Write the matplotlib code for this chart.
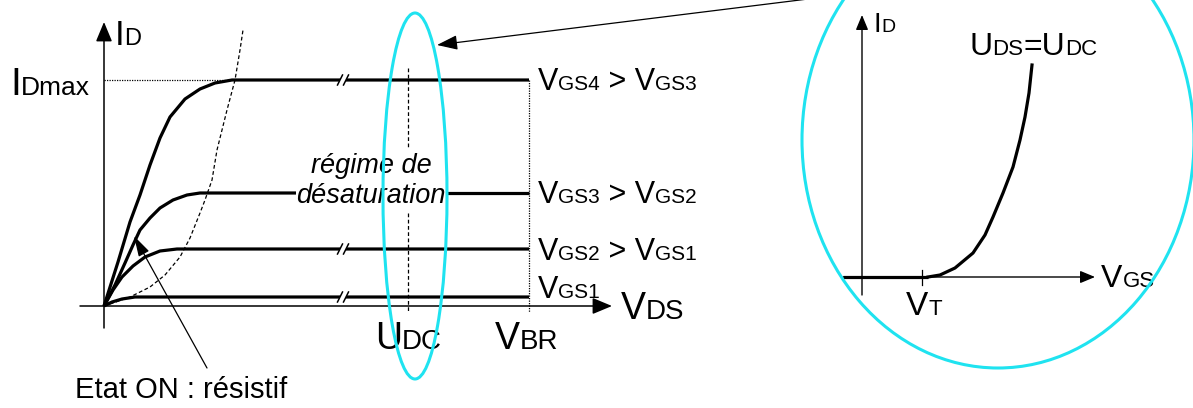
import matplotlib
matplotlib.use("Agg")
import matplotlib.pyplot as plt
from matplotlib.patches import Ellipse, Polygon

plt.rcParams['font.family'] = ['Liberation Sans', 'DejaVu Sans']

# --- data (pixel units, y downwards) ---
# output characteristics I_D(V_DS), one per V_GS
vgs4_x = [104, 118, 130, 140, 150, 160, 170, 185, 200, 215, 232, 529]
vgs4_y = [306, 262, 222, 195, 165, 138, 117, 99, 89, 83, 80, 80]
vgs3_x = [104, 115, 125, 133, 140, 150, 160, 173, 187, 200, 296]
vgs3_y = [306, 285, 263, 245, 230, 218, 208, 200, 195, 193, 193]
vgs3_x2 = [447, 529]
vgs2_x = [104, 113, 122, 133, 145, 160, 177, 529]
vgs2_y = [306, 290, 277, 266, 257, 251, 249, 249]
vgs1_x = [104, 112, 122, 135, 529]
vgs1_y = [306, 302, 299, 297, 297]
# saturation limit (dashed)
sat_x = [104, 113, 130, 150, 165, 180, 190, 200, 205, 212, 217, 227, 235, 240, 243]
sat_y = [306, 303, 297, 287, 275, 257, 238, 213, 200, 180, 150, 110, 80, 50, 30]
# transfer characteristic I_D(V_GS) at U_DS = U_DC
tr_x = [928, 940, 955, 973, 985, 993, 1003, 1013, 1020, 1025, 1029, 1032]
tr_y = [277, 275, 268, 253, 235, 217, 193, 167, 140, 117, 93, 65]

id_max = 80
v_br = 529
u_dc = 408
v_t = 922
break_x = 343
break_levels = [80, 249, 297]

fig = plt.figure(figsize=(11.93, 4.08), dpi=100)
ax = fig.add_axes([0, 0, 1, 1])
ax.set_xlim(0, 1193)
ax.set_ylim(408, 0)
ax.axis('off')

cyan = '#1FE3F0'
renderer = fig.canvas.get_renderer()


def sublabel(x, y, parts, **kw):
    for s, size in parts:
        t = ax.text(x, y, s, fontsize=size, va='baseline', ha='left', **kw)
        x += t.get_window_extent(renderer=renderer).width


def arrow(x0, y0, x1, y1, lw=1.1, hl=0.6, hw=0.25, ms=20):
    ax.annotate('', xy=(x1, y1), xytext=(x0, y0),
                arrowprops=dict(arrowstyle='-|>,head_length=%g,head_width=%g' % (hl, hw),
                                lw=lw, color='k', mutation_scale=ms,
                                shrinkA=0, shrinkB=0))


# left axes
arrow(104, 328, 104, 22)
arrow(80, 306, 612, 306)

# curves
ax.plot(vgs4_x, vgs4_y, color='k', lw=2.3, solid_capstyle='butt')
ax.plot(vgs3_x, vgs3_y, color='k', lw=2.3, solid_capstyle='butt')
ax.plot(vgs3_x2, [vgs3_y[-1]] * 2, color='k', lw=2.3, solid_capstyle='butt')
ax.plot(vgs2_x, vgs2_y, color='k', lw=2.3, solid_capstyle='butt')
ax.plot(vgs1_x, vgs1_y, color='k', lw=2.3, solid_capstyle='butt')
ax.plot(sat_x, sat_y, color='k', lw=0.9, ls=(0, (3, 2)))

# guides
ax.plot([104, 230], [id_max, id_max], color='k', lw=0.9, ls=(0, (1, 1)))
ax.plot([v_br, v_br], [id_max, 312], color='k', lw=0.9, ls=(0, (1, 1)))
ax.plot([u_dc, u_dc], [68, 147], color='k', lw=0.9, ls=(0, (3, 2)))
ax.plot([u_dc, u_dc], [213, 313], color='k', lw=0.9, ls=(0, (3, 2)))

# break marks
for yb in break_levels:
    ax.add_patch(Polygon([(break_x - 5, yb + 4), (break_x + 1, yb + 4),
                          (break_x + 5, yb - 4), (break_x - 1, yb - 4)],
                         closed=True, fc='white', ec='none', zorder=3))
    for dx in (-3, 3):
        ax.plot([break_x + dx - 2.5, break_x + dx + 2.5], [yb + 5, yb - 5],
                color='k', lw=1.1, zorder=4)

# left labels
sublabel(115, 45, [('I', 25), ('D', 17)])
sublabel(10, 95, [('I', 28), ('Dmax', 19)])
sublabel(538, 90, [('V', 22), ('GS4', 15), (' > V', 22), ('GS3', 15)])
sublabel(538, 203, [('V', 22), ('GS3', 15), (' > V', 22), ('GS2', 15)])
sublabel(538, 260, [('V', 22), ('GS2', 15), (' > V', 22), ('GS1', 15)])
sublabel(538, 298, [('V', 22), ('GS1', 15)])
sublabel(621, 319, [('V', 27), ('DS', 20)])
sublabel(375, 349, [('U', 27), ('DC', 20)])
sublabel(495, 349, [('V', 27), ('BR', 20)])
ax.text(371, 173, 'régime de', fontsize=19.5, style='italic', ha='center', va='baseline')
ax.text(371, 203, 'désaturation', fontsize=19.5, style='italic', ha='center', va='baseline')
ax.text(75, 398, 'Etat ON : résistif', fontsize=21, ha='left', va='baseline')
arrow(207, 368, 134, 236, lw=0.9, hl=0.7, hw=0.2, ms=18)

# zoom ellipse and pointer
ax.add_patch(Ellipse((415, 196), 64, 366, fill=False, ec=cyan, lw=2.2, zorder=5))
ax.add_patch(Ellipse((998, 140), 392, 456, fill=False, ec=cyan, lw=2.2, zorder=5))
arrow(808, -1, 437, 45, lw=0.9, hl=0.7, hw=0.25, ms=18)

# right inset
arrow(862, 295, 862, 15, lw=1.0, hl=0.6, hw=0.25, ms=15)
arrow(843, 277, 1095, 277, lw=1.0, hl=0.6, hw=0.25, ms=15)
ax.plot([843, tr_x[0]], [277, 277], color='k', lw=2.3, solid_capstyle='butt')
ax.plot(tr_x, tr_y, color='k', lw=2.3)
ax.plot([v_t, v_t], [270, 285], color='k', lw=0.9)
sublabel(874, 32, [('I', 20), ('D', 14)])
sublabel(969, 55, [('U', 23), ('DS', 16), ('=U', 23), ('DC', 16)])
sublabel(1101, 287, [('V', 23), ('GS', 16)])
sublabel(906, 315, [('V', 24), ('T', 16)])

fig.savefig('out.png', dpi=100)
